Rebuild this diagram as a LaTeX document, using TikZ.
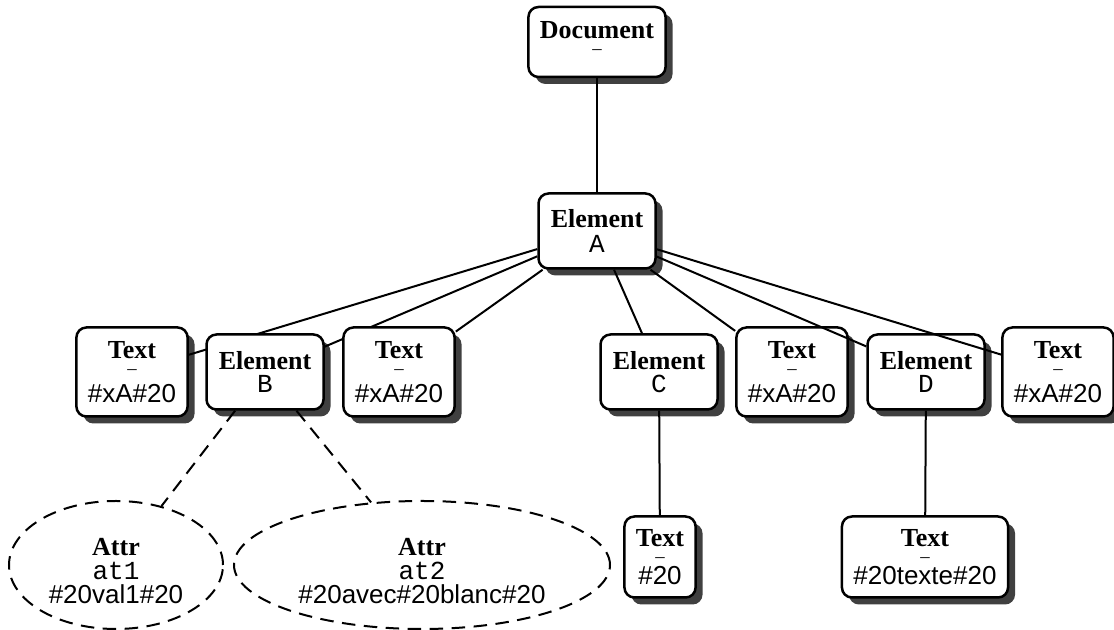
\documentclass[tikz,border=0pt]{standalone}
\usepackage{fontspec}
\setmainfont{Liberation Serif}
\setsansfont{Liberation Sans}
\setmonofont{Liberation Mono}
\usetikzlibrary{shapes.geometric, shadows}
\definecolor{InkBlack}{HTML}{000000}
\definecolor{ShadowGray}{HTML}{404040}
\newcommand{\nilmark}{{\fontsize{7.5pt}{7.5pt}\selectfont\textendash}}
\tikzset{
  treebox/.style={draw=InkBlack, line width=1pt, rounded corners=4pt, fill=white, align=center, inner xsep=4.6pt, inner ysep=2pt, drop shadow={shadow xshift=2.8pt, shadow yshift=-2.8pt, fill=ShadowGray, opacity=1}, font=\fontsize{10.4pt}{9.2pt}\selectfont},
  elembox/.style={treebox, minimum width=46.8pt, minimum height=30pt},
  docbox/.style={treebox, minimum height=28pt},
  textbox/.style={treebox, minimum width=44.4pt, minimum height=35.6pt},
  leafbox/.style={treebox, minimum height=32.4pt},
  attrbox/.style={ellipse, draw=InkBlack, line width=0.8pt, dash pattern=on 5.4pt off 3.4pt, align=center, inner sep=0pt, minimum height=51.2pt, font=\fontsize{10.4pt}{9.6pt}\selectfont},
  link/.style={draw=InkBlack, line width=0.8pt},
  attrlink/.style={link, dash pattern=on 5.4pt off 3.4pt}
}

\begin{document}
\begin{tikzpicture}[x=0.4pt, y=-0.4pt]
\useasboundingbox (0,0) rectangle (1114,630);
% root and first element
\node[docbox] (doc) at (597,42) {\textbf{Document}\\[-2.6pt]\nilmark\\[-6pt]};
\node[elembox] (A) at (597,231) {\textbf{Element}\\[0.6pt]\texttt{A}};
\draw[link] (doc) -- (A);
% children of A, drawn one after the other
\node[textbox] (t1) at (132,372) {\textbf{Text}\\[-2.6pt]\nilmark\\[1.8pt]\textsf{\#xA\#20}};
\draw[link] (A) -- (t1);
\node[elembox] (B) at (265,372) {\textbf{Element}\\\texttt{B}};
\draw[link] (A) -- (B);
\node[textbox] (t2) at (399,372) {\textbf{Text}\\[-2.6pt]\nilmark\\[1.8pt]\textsf{\#xA\#20}};
\draw[link] (A) -- (t2);
\node[elembox] (C) at (659,372) {\textbf{Element}\\\texttt{C}};
\draw[link] (A) -- (C);
\node[textbox] (t3) at (792,372) {\textbf{Text}\\[-2.6pt]\nilmark\\[1.8pt]\textsf{\#xA\#20}};
\draw[link] (A) -- (t3);
\node[elembox] (D) at (926,372) {\textbf{Element}\\\texttt{D}};
\draw[link] (A) -- (D);
\node[textbox] (t4) at (1058,372) {\textbf{Text}\\[-2.6pt]\nilmark\\[1.8pt]\textsf{\#xA\#20}};
\draw[link] (A) -- (t4);
% attributes of B
\node[attrbox, minimum width=85.6pt] (at1) at (116,565) {\rule{0pt}{12pt}\textbf{Attr}\\\texttt{at1}\\\textsf{\#20val1\#20}};
\node[attrbox, minimum width=150.4pt] (at2) at (422,565) {\rule{0pt}{12pt}\textbf{Attr}\\\texttt{at2}\\\textsf{\#20avec\#20blanc\#20}};
\draw[attrlink] (B) -- (at1);
\draw[attrlink] (B) -- (at2);
% text under C and D
\node[leafbox] (t5) at (660,557) {\textbf{Text}\\[-2.6pt]\nilmark\\[-0.4pt]\textsf{\#20}};
\node[leafbox] (t6) at (925,557) {\textbf{Text}\\[-2.6pt]\nilmark\\[-0.4pt]\textsf{\#20texte\#20}};
\draw[link] (C) -- (t5);
\draw[link] (D) -- (t6);
\end{tikzpicture}
\end{document}
